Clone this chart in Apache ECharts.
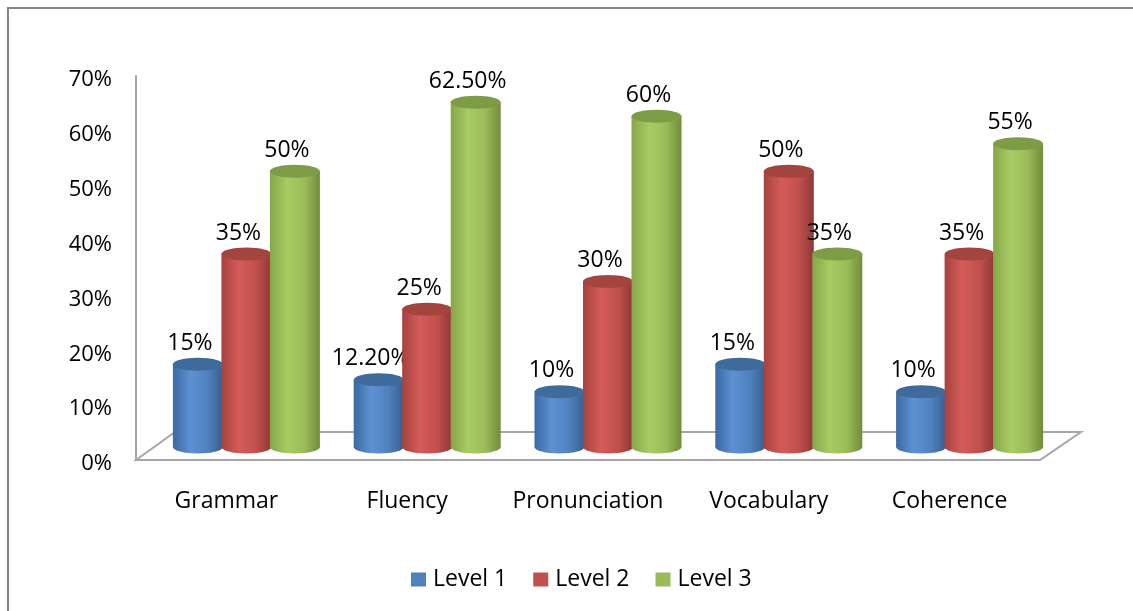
<!DOCTYPE html>
<html lang="en">
<head>
    <meta charset="UTF-8">
    <title>Levels by skill</title>
    <script src="https://cdn.jsdelivr.net/npm/echarts@6.0.0/dist/echarts.min.js"></script>
    <style>
        html, body {
            margin: 0;
            padding: 0;
            background-color: #ffffff;
        }
        #chart {
            width: 1133px;
            height: 611px;
        }
    </style>
</head>
<body>
<div id="chart"></div>
<script>
    // data
    var categories = ['Grammar', 'Fluency', 'Pronunciation', 'Vocabulary', 'Coherence'];
    var seriesNames = ['Level 1', 'Level 2', 'Level 3'];
    var level1 = [15, 12.2, 10, 15, 10];
    var level2 = [35, 25, 30, 50, 35];
    var level3 = [50, 62.5, 60, 35, 55];
    var yMin = 0, yMax = 70, yStep = 10;

    // colours: [legend, left edge, highlight, right edge, top cap]
    var palettes = [
        ['#4F81BD', '#3B69A3', '#5D91D3', '#365E8F', '#3E6A9C'],
        ['#C0504D', '#A6423F', '#D45B58', '#8F3835', '#A4443F'],
        ['#9BBB59', '#86A64A', '#A9CB62', '#718C3A', '#7E9C46']
    ];

    var FONT = '"Open Sans", "Liberation Sans", sans-serif';
    // front plane (axis labels) and back plane (cylinders)
    var front = {left: 136, right: 93, top: 76, bottom: 151};
    var back = {left: 156, right: 73, top: 61, bottom: 164};
    var floorDepth = {dx: 39, dy: 28};
    var BAR_W = 50, STEP = 48.5, CAP_H = 13;

    function fmt(v) {
        return Number.isInteger(v) ? v + '%' : v.toFixed(2) + '%';
    }

    function makeRender(idx) {
        var pal = palettes[idx];
        return function (params, api) {
            var cat = api.value(0), val = api.value(1);
            var topPt = api.coord([cat, val]);
            var basePt = api.coord([cat, 0]);
            var cx = topPt[0] + (idx - 1) * STEP;
            var body = new echarts.graphic.LinearGradient(0, 0, 1, 0, [
                {offset: 0, color: pal[1]},
                {offset: 0.35, color: pal[2]},
                {offset: 0.7, color: pal[0]},
                {offset: 1, color: pal[3]}
            ]);
            return {
                type: 'group',
                children: [
                    {
                        type: 'ellipse',
                        shape: {cx: cx, cy: basePt[1], rx: BAR_W / 2, ry: CAP_H / 2},
                        style: {fill: body}
                    },
                    {
                        type: 'rect',
                        shape: {x: cx - BAR_W / 2, y: topPt[1], width: BAR_W, height: basePt[1] - topPt[1]},
                        style: {fill: body}
                    },
                    {
                        type: 'ellipse',
                        shape: {cx: cx, cy: topPt[1], rx: BAR_W / 2, ry: CAP_H / 2},
                        style: {fill: pal[4]}
                    },
                    {
                        type: 'text',
                        x: cx - 8,
                        y: topPt[1] - 21,
                        style: {
                            text: fmt(val),
                            fill: '#000',
                            font: '23px ' + FONT,
                            align: 'center',
                            verticalAlign: 'middle'
                        }
                    }
                ]
            };
        };
    }

    var levels = [level1, level2, level3];
    var series = levels.map(function (arr, idx) {
        return {
            name: seriesNames[idx],
            type: 'custom',
            xAxisIndex: 1,
            yAxisIndex: 1,
            itemStyle: {color: palettes[idx][0]},
            renderItem: makeRender(idx),
            data: arr.map(function (v, i) { return [i, v]; })
        };
    });

    // floor parallelogram, from the front plane
    var W = 1133, H = 611;
    var fx0 = front.left, fx1 = W - front.right, fy = H - front.bottom;
    var floorPts = [
        [fx0, fy],
        [fx0 + floorDepth.dx, fy - floorDepth.dy],
        [fx1 + floorDepth.dx + 2, fy - floorDepth.dy],
        [fx1, fy]
    ];

    var option = {
        backgroundColor: '#ffffff',
        animation: false,
        graphic: [
            {
                type: 'rect',
                shape: {x: 8, y: 8, width: 1200, height: 700},
                style: {fill: 'none', stroke: '#868686', lineWidth: 2}
            },
            {
                type: 'polygon',
                shape: {points: floorPts},
                style: {fill: '#ffffff', stroke: '#A6A6A6', lineWidth: 2}
            }
        ],
        legend: {
            data: seriesNames.map(function (n) { return {name: n, icon: 'rect'}; }),
            left: 406,
            top: 563,
            itemWidth: 15,
            itemHeight: 14,
            itemGap: 26,
            textStyle: {fontFamily: FONT, fontSize: 23, color: '#000', padding: [0, 0, 0, 2]}
        },
        grid: [
            {left: front.left, right: front.right, top: front.top, bottom: front.bottom},
            {left: back.left, right: back.right, top: back.top, bottom: back.bottom}
        ],
        xAxis: [
            {
                type: 'category',
                gridIndex: 0,
                data: categories,
                axisLine: {show: false},
                axisTick: {show: false},
                axisLabel: {interval: 0, margin: 30, fontFamily: FONT, fontSize: 23, color: '#000'}
            },
            {
                type: 'category',
                gridIndex: 1,
                data: categories,
                show: false
            }
        ],
        yAxis: [
            {
                type: 'value',
                gridIndex: 0,
                min: yMin,
                max: yMax,
                interval: yStep,
                axisLine: {show: true, lineStyle: {color: '#A6A6A6', width: 2}},
                axisTick: {show: false},
                splitLine: {show: false},
                axisLabel: {
                    margin: 24,
                    verticalAlign: 'top',
                    lineHeight: 8,
                    fontFamily: FONT,
                    fontSize: 22,
                    color: '#000',
                    formatter: '{value}%'
                }
            },
            {
                type: 'value',
                gridIndex: 1,
                min: yMin,
                max: yMax,
                interval: yStep,
                show: false
            }
        ],
        series: series
    };

    var chart = echarts.init(document.getElementById('chart'));
    chart.setOption(option);
</script>
</body>
</html>
